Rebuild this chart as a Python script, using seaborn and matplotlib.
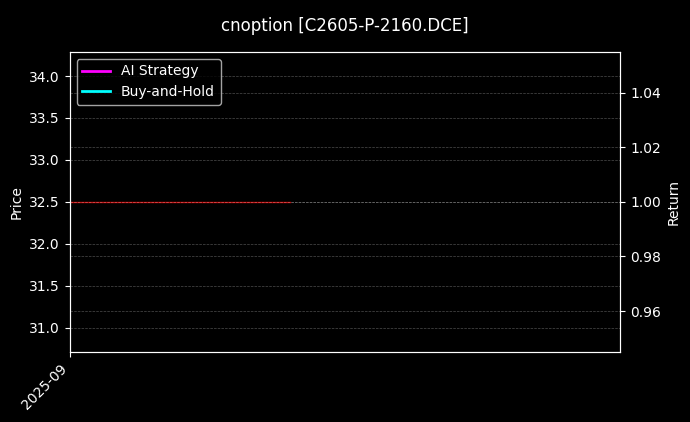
import pandas as pd
import seaborn as sns
import matplotlib.pyplot as plt
import matplotlib.dates as mdates

# данные
symbol = "cnoption [C2605-P-2160.DCE]"
price_dates = pd.to_datetime(["2025-09-01", "2025-09-02", "2025-09-03", "2025-09-04", "2025-09-05"])
price_values = [32.5, 32.5, 32.5, 32.5, 32.5]
return_dates = pd.to_datetime(["2025-09-01"])
ai_returns = [1.0]
bh_returns = [1.0]
x_range = pd.to_datetime(["2025-09-01", "2025-09-11"])

plt.style.use("dark_background")

fig, ax1 = plt.subplots(figsize=(6.9, 4.22), dpi=100)
ax2 = ax1.twinx()

price_df = pd.DataFrame({"date": price_dates, "price": price_values})
ret_df = pd.DataFrame({"date": return_dates, "ai": ai_returns, "bh": bh_returns})

sns.lineplot(data=price_df, x="date", y="price", ax=ax1, color="red", linewidth=1, alpha=0.7, legend=False)
sns.lineplot(data=ret_df, x="date", y="ai", ax=ax2, color="magenta", linewidth=2, label="AI Strategy", legend=False)
sns.lineplot(data=ret_df, x="date", y="bh", ax=ax2, color="cyan", linewidth=2, label="Buy-and-Hold", legend=False)

ax1.set_xlim(x_range[0], x_range[1])
ax1.xaxis.set_major_locator(mdates.MonthLocator())
ax1.xaxis.set_major_formatter(mdates.DateFormatter("%Y-%m"))
plt.setp(ax1.get_xticklabels(), rotation=45, ha="right")

ax1.set_xlabel("")
ax1.set_ylabel("Price")
ax2.set_ylabel("Return")
ax1.grid(True, linestyle="--", linewidth=0.5, alpha=0.3)
ax2.grid(True, linestyle="--", linewidth=0.5, alpha=0.3)

ax2.legend(loc="upper left")

fig.suptitle(symbol, fontsize=12, y=0.96)
plt.subplots_adjust(left=0.101, right=0.899, top=0.877, bottom=0.166)
plt.savefig("out.png", dpi=100)
